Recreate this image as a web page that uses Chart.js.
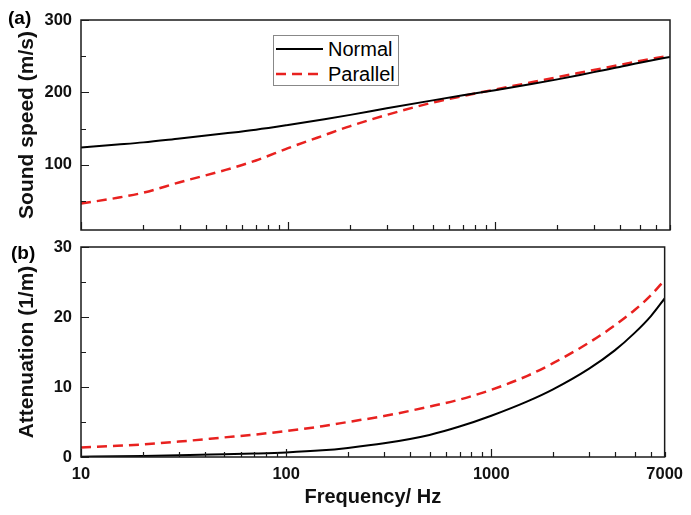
<!DOCTYPE html>
<html>
<head>
<meta charset="utf-8">
<script src="https://cdn.jsdelivr.net/npm/chart.js@4.4.0/dist/chart.umd.min.js"></script>
<style>
    body { margin: 0; background: #fff; font-family: "Liberation Sans", Arial, sans-serif; }
    #wrap { position: relative; width: 691px; height: 515px; }
    canvas { position: absolute; left: 0; }
    #speedChart { top: 0; }
    #attenChart { top: 227px; }
    .panel { position: absolute; font-weight: bold; font-size: 19px; }
    #legend { position: absolute; left: 273px; top: 35px; width: 124px; height: 49px; border: 1px solid #888; background: #fff; }
    .row { position: absolute; left: 2px; height: 24px; display: flex; align-items: center; font-size: 20px; }
    .row svg { margin-right: 5px; }
</style>
</head>
<body>
<div id="wrap">
    <canvas id="speedChart" width="691" height="250"></canvas>
    <canvas id="attenChart" width="691" height="288"></canvas>
    <div class="panel" style="left:8px; top:7px;">(a)</div>
    <div class="panel" style="left:11px; top:242px;">(b)</div>
    <div id="legend"></div>
</div>
<script>
    // Frequencies (Hz) the curves were read at
    const frequencies = [10, 15, 20, 30, 50, 70, 100, 150, 200, 300, 500, 700, 1000, 1500, 2000, 3000, 4000, 5000, 6000, 7000]

    // Sound speed (m/s)
    const normalSpeed = [124, 128, 131, 136.5, 143.5, 148.5, 155, 163, 169, 178, 189, 196, 203, 211.5, 218, 228, 235, 241, 245.5, 249]
    const parallelSpeed = [46.5, 54.5, 61.5, 76, 93, 106, 123, 141, 153.5, 169, 186, 195, 204, 214, 221, 231, 238, 243.5, 247.5, 251]

    // Attenuation (1/m)
    const normalAtten = [0.05, 0.1, 0.15, 0.25, 0.4, 0.5, 0.65, 0.95, 1.3, 1.95, 3.15, 4.35, 5.9, 7.95, 9.67, 12.63, 15.23, 17.73, 20.13, 22.65]
    const parallelAtten = [1.35, 1.6, 1.8, 2.2, 2.8, 3.2, 3.7, 4.4, 5.0, 5.85, 7.2, 8.2, 9.6, 11.6, 13.4, 16.35, 18.8, 21.0, 23.1, 25.3]

    const seriesNames = ['Normal', 'Parallel']

    // Ticks
    const freqTicks = [10, 20, 30, 40, 50, 60, 70, 80, 90, 100, 200, 300, 400, 500, 600, 700, 800, 900, 1000, 2000, 3000, 4000, 5000, 6000, 7000]
    const freqLabels = [10, 100, 1000, 7000]
    const speedTicks = [50, 100, 150, 200, 250, 300]
    const speedLabels = [100, 200, 300]
    const attenTicks = [0, 5, 10, 15, 20, 25, 30]
    const attenLabels = [0, 10, 20, 30]

    const FONT = '"Liberation Sans", Arial, sans-serif'
    const RED = '#e8211f'

    function points(values) {
        return frequencies.map((f, i) => ({ x: f, y: values[i] }))
    }

    function lineSet(label, values, dashed) {
        return {
            label: label,
            data: points(values),
            borderColor: dashed ? RED : '#000',
            borderWidth: dashed ? 2.5 : 2,
            borderDash: dashed ? [10, 6] : [],
            pointRadius: 0,
            cubicInterpolationMode: 'monotone',
            fill: false
        }
    }

    // Box around the plot and inward tick marks
    const framePlugin = {
        id: 'frame',
        afterDatasetsDraw(chart, args, opts) {
            const ctx = chart.ctx
            const a = chart.chartArea
            const xs = chart.scales.x
            const ys = chart.scales.y
            ctx.save()
            ctx.strokeStyle = '#1a1a1a'
            ctx.lineWidth = 1.2
            ctx.beginPath()
            xs.ticks.forEach(t => {
                const px = Math.round(xs.getPixelForValue(t.value)) + 0.5
                const len = opts.xMajor.includes(t.value) ? 8 : 5
                ctx.moveTo(px, a.bottom)
                ctx.lineTo(px, a.bottom - len)
            })
            ys.ticks.forEach(t => {
                const py = Math.round(ys.getPixelForValue(t.value)) + 0.5
                const len = opts.yMajor.includes(t.value) ? 8 : 5
                ctx.moveTo(a.left, py)
                ctx.lineTo(a.left + len, py)
            })
            ctx.stroke()
            ctx.lineWidth = 1.5
            ctx.strokeRect(a.left, a.top, a.right - a.left, a.bottom - a.top)
            ctx.restore()
        }
    }

    function makeChart(id, opts) {
        return new Chart(document.getElementById(id), {
            type: 'line',
            data: {
                datasets: [
                    lineSet(seriesNames[0], opts.normal, false),
                    lineSet(seriesNames[1], opts.parallel, true)
                ]
            },
            plugins: [framePlugin],
            options: {
                responsive: false,
                animation: false,
                layout: { padding: { top: 20, right: 21, left: 0, bottom: 0 } },
                plugins: {
                    legend: { display: false },
                    tooltip: { enabled: false },
                    frame: { xMajor: [10, 100, 1000], yMajor: opts.yLabels }
                },
                scales: {
                    x: {
                        type: 'logarithmic',
                        min: 10,
                        max: 7000,
                        afterBuildTicks: s => { s.ticks = freqTicks.map(v => ({ value: v })) },
                        afterFit: s => { s.height = opts.xHeight },
                        grid: { display: false, drawTicks: false },
                        border: { display: false },
                        ticks: {
                            display: opts.showX,
                            autoSkip: false,
                            maxRotation: 0,
                            padding: 8,
                            color: '#111',
                            font: { family: FONT, size: 16.5, weight: 'bold' },
                            callback: v => freqLabels.includes(v) ? String(v) : ''
                        },
                        title: {
                            display: opts.showX,
                            text: 'Frequency/ Hz',
                            color: '#111',
                            padding: { top: 0, bottom: 6 },
                            font: { family: FONT, size: 20, weight: 'bold' }
                        }
                    },
                    y: {
                        min: opts.yMin,
                        max: opts.yMax,
                        afterBuildTicks: s => { s.ticks = opts.yTicks.map(v => ({ value: v })) },
                        afterFit: s => { s.width = 81 },
                        grid: { display: false, drawTicks: false },
                        border: { display: false },
                        ticks: {
                            autoSkip: false,
                            padding: 9,
                            color: '#111',
                            font: { family: FONT, size: 16.5, weight: 'bold' },
                            callback: v => opts.yLabels.includes(v) ? String(v) : ''
                        },
                        title: {
                            display: true,
                            text: opts.yTitle,
                            color: '#111',
                            padding: { top: 14.5, bottom: 0 },
                            font: { family: FONT, size: 21, weight: 'bold' }
                        }
                    }
                }
            }
        })
    }

    makeChart('speedChart', {
        normal: normalSpeed, parallel: parallelSpeed,
        yMin: 10, yMax: 300, yTicks: speedTicks, yLabels: speedLabels,
        yTitle: 'Sound speed (m/s)', xHeight: 20, showX: false
    })

    makeChart('attenChart', {
        normal: normalAtten, parallel: parallelAtten,
        yMin: 0, yMax: 30, yTicks: attenTicks, yLabels: attenLabels,
        yTitle: 'Attenuation (1/m)', xHeight: 58, showX: true
    })

    // Legend box inside panel (a)
    const legend = document.getElementById('legend')
    seriesNames.forEach((name, i) => {
        const dashed = i === 1
        const row = document.createElement('div')
        row.className = 'row'
        row.style.top = (i === 0 ? 1 : 26) + 'px'
        row.innerHTML = '<svg width="47" height="6"><line x1="0" y1="3" x2="47" y2="3" stroke="' + (dashed ? RED : '#000') +
            '" stroke-width="' + (dashed ? 2.5 : 2) + '"' + (dashed ? ' stroke-dasharray="10 6"' : '') + '/></svg>' +
            '<span>' + name + '</span>'
        legend.appendChild(row)
    })
</script>
</body>
</html>
